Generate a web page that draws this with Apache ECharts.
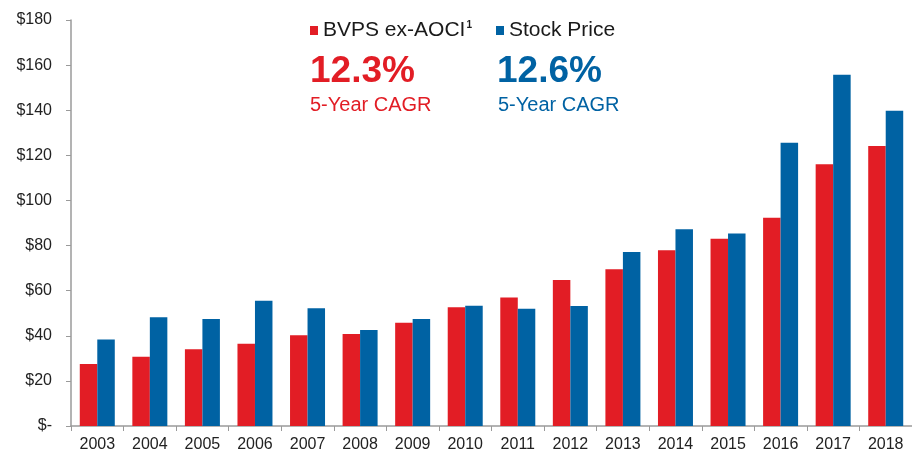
<!DOCTYPE html>
<html>
<head>
<meta charset="utf-8">
<style>
  html, body { margin: 0; padding: 0; background: #ffffff; }
  #chart { width: 912px; height: 453px; }
</style>
<script src="https://cdn.jsdelivr.net/npm/echarts@6/dist/echarts.min.js"></script>
</head>
<body>
<div id="chart"></div>
<script>
// Book value per share (ex-AOCI) vs. stock price, year-end
const years = ['2003', '2004', '2005', '2006', '2007', '2008', '2009', '2010',
               '2011', '2012', '2013', '2014', '2015', '2016', '2017', '2018'];
const bvpsExAoci = [27.5, 30.7, 34.0, 36.5, 40.2, 40.8, 45.8, 52.6,
                    57.0, 64.7, 69.5, 77.9, 83.0, 92.3, 116.1, 124.1];
const stockPrice = [38.4, 48.2, 47.4, 55.5, 52.2, 42.6, 47.4, 53.3,
                    52.0, 53.2, 77.1, 87.2, 85.4, 125.6, 155.7, 139.8];
const seriesNames = ['BVPS ex-AOCI', 'Stock Price'];
const cagrValues = ['12.3%', '12.6%'];
const cagrCaption = '5-Year CAGR';
const yTicks = [0, 20, 40, 60, 80, 100, 120, 140, 160, 180];

const RED = '#e21d25';
const BLUE = '#0062a3';
const FONT = '"Liberation Sans", Arial, sans-serif';

const chart = echarts.init(document.getElementById('chart'), null, { renderer: 'canvas' });

const legendBase = {
  top: 20,
  icon: 'rect',
  itemWidth: 8,
  itemHeight: 9,
  itemGap: 0,
  selectedMode: false,
  padding: 0,
  textStyle: { fontFamily: FONT, fontSize: 21, color: '#1a1a1a' }
};

const option = {
  animation: false,
  backgroundColor: '#ffffff',
  legend: [
    Object.assign({}, legendBase, {
      left: 310,
      data: [seriesNames[0]],
      // footnote marker rendered as a superscript after the series name
      formatter: function (name) { return '{t|' + name + '}{s|1}'; },
      textStyle: Object.assign({}, legendBase.textStyle, {
        rich: {
          t: { fontFamily: FONT, fontSize: 21, color: '#1a1a1a' },
          s: { fontFamily: FONT, fontSize: 10, fontWeight: 'bold', color: '#1a1a1a', verticalAlign: 'top', padding: [0, 0, 0, 1] }
        }
      })
    }),
    Object.assign({}, legendBase, {
      left: 496,
      data: [seriesNames[1]]
    })
  ],
  graphic: [
    { type: 'text', left: 310, top: 53, style: { text: cagrValues[0], fill: RED, font: 'bold 37px ' + FONT } },
    { type: 'text', left: 310, top: 95, style: { text: cagrCaption, fill: RED, font: '20px ' + FONT } },
    { type: 'text', left: 497, top: 53, style: { text: cagrValues[1], fill: BLUE, font: 'bold 37px ' + FONT } },
    { type: 'text', left: 498, top: 95, style: { text: cagrCaption, fill: BLUE, font: '20px ' + FONT } }
  ],
  grid: { left: 71, right: -2, top: 20, bottom: 27, containLabel: false },
  xAxis: {
    type: 'category',
    data: years,
    boundaryGap: true,
    axisLine: { lineStyle: { color: '#9a9a9a', width: 1.5 } },
    axisTick: { show: true, length: 5, lineStyle: { color: '#9a9a9a' } },
    axisLabel: { fontFamily: FONT, fontSize: 16, color: '#222222', margin: 11 }
  },
  yAxis: {
    type: 'value',
    min: yTicks[0],
    max: yTicks[yTicks.length - 1],
    interval: yTicks[1] - yTicks[0],
    splitLine: { show: false },
    axisLine: { show: true, lineStyle: { color: '#9a9a9a', width: 1.5 } },
    axisTick: { show: true, length: 5, lineStyle: { color: '#9a9a9a' } },
    axisLabel: {
      fontFamily: FONT, fontSize: 16, color: '#222222', margin: 19,
      formatter: function (v) { return v === 0 ? '$-' : '$' + v; }
    }
  },
  series: [
    {
      name: seriesNames[0], type: 'bar', data: bvpsExAoci,
      barWidth: 17.5, barGap: '0%',
      itemStyle: { color: RED }
    },
    {
      name: seriesNames[1], type: 'bar', data: stockPrice,
      barWidth: 17.5, barGap: '0%',
      itemStyle: { color: BLUE }
    }
  ]
};

chart.setOption(option);
</script>
</body>
</html>
